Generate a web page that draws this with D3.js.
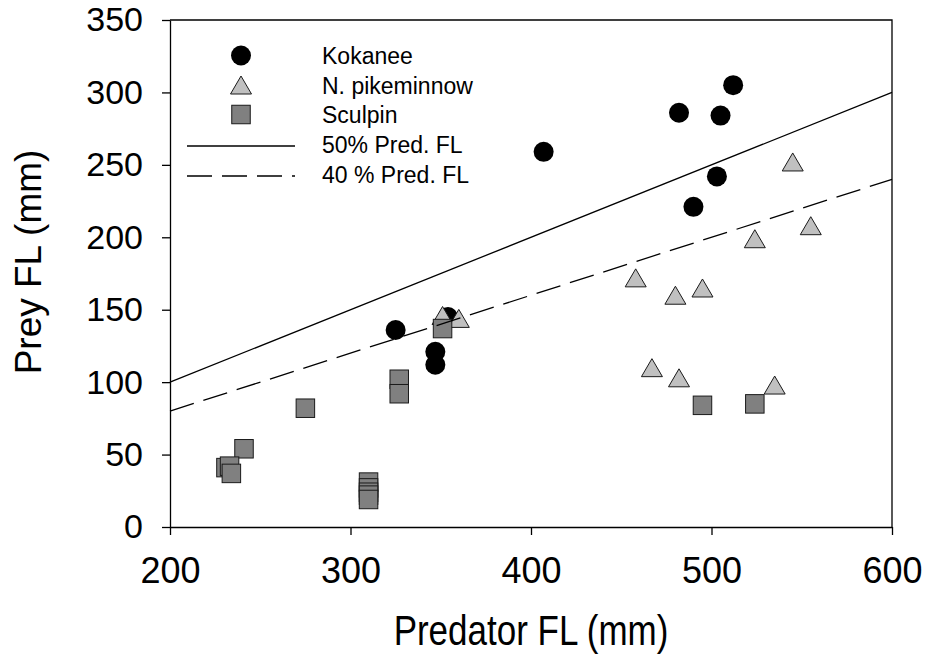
<!DOCTYPE html>
<html>
<head>
<meta charset="utf-8">
<script src="https://cdn.jsdelivr.net/npm/d3@7"></script>
<style>
  body { margin: 0; background: #fff; }
  text { font-family: "Liberation Sans", Arial, sans-serif; fill: #000; }
</style>
</head>
<body>
<div id="vis"></div>
<script>
// predator FL (x) and prey FL (y)
var kokaneeX = [512, 482, 505, 407, 503, 490, 354, 325, 347, 347];
var kokaneeY = [305, 286, 284, 259, 242, 221, 145, 136, 121, 112];

var pikeX = [545, 555, 524, 458, 480, 495, 467, 482, 535, 351, 360];
var pikeY = [252, 208, 199, 172, 160, 165, 110, 103, 98, 146, 144];

var sculpinX = [495, 524, 351, 327, 327, 275, 241, 231, 233, 234, 310, 310, 310, 310, 310];
var sculpinY = [84, 85, 137, 102, 92, 82, 54, 41, 42, 37, 31, 27, 24, 22, 19];

// reference lines: prey = fraction * predator
var lineNames = ["50% Pred. FL", "40 % Pred. FL"];
var lineFractions = [0.5, 0.4];
var lineRange = [200, 600];

var speciesNames = ["Kokanee", "N. pikeminnow", "Sculpin"];

var xTicks = [200, 300, 400, 500, 600];
var yTicks = [0, 50, 100, 150, 200, 250, 300, 350];

var width = 926, height = 654;
// (don't name these top/left etc - window.top is read only)
var plotL = 170, plotR = 892, plotT = 20, plotB = 527;

var svg = d3.select("#vis").append("svg").attr("width", width).attr("height", height);

var x = d3.scaleLinear().domain([200, 600]).range([plotL, plotR]);
var y = d3.scaleLinear().domain([0, 350]).range([plotB, plotT]);

// symbol drawing helpers
function drawCircle(g, cx, cy) {
  g.append("circle").attr("cx", cx).attr("cy", cy).attr("r", 10).attr("fill", "#000");
}
function drawTriangle(g, cx, cy) {
  var w = 21, h = 18;
  g.append("path")
    .attr("d", "M" + cx + "," + (cy - h / 2) + "L" + (cx + w / 2) + "," + (cy + h / 2) + "L" + (cx - w / 2) + "," + (cy + h / 2) + "Z")
    .attr("fill", "#c0c0c0").attr("stroke", "#1a1a1a").attr("stroke-width", 1);
}
function drawSquare(g, cx, cy) {
  var s = 18.5;
  g.append("rect").attr("x", cx - s / 2).attr("y", cy - s / 2).attr("width", s).attr("height", s)
    .attr("fill", "#808080").attr("stroke", "#1a1a1a").attr("stroke-width", 1);
}

// points: circles at the back, squares at the front
var pts = svg.append("g");
kokaneeX.forEach(function(v, i) { drawCircle(pts, x(v), y(kokaneeY[i])); });
pikeX.forEach(function(v, i) { drawTriangle(pts, x(v), y(pikeY[i])); });
sculpinX.forEach(function(v, i) { drawSquare(pts, x(v), y(sculpinY[i])); });

// reference lines
var dashes = [null, "25,10"];
lineFractions.forEach(function(f, i) {
  svg.append("line")
    .attr("x1", x(lineRange[0])).attr("y1", y(lineRange[0] * f))
    .attr("x2", x(lineRange[1])).attr("y2", y(lineRange[1] * f))
    .attr("stroke", "#000").attr("stroke-width", 1.3)
    .attr("stroke-dasharray", dashes[i]);
});

// axes
var xAxis = d3.axisBottom(x).tickValues(xTicks).tickSize(8).tickSizeOuter(0).tickPadding(22);
var yAxis = d3.axisLeft(y).tickValues(yTicks).tickSize(8).tickSizeOuter(0).tickPadding(19);

var gx = svg.append("g").attr("transform", "translate(0," + plotB + ")").call(xAxis);
var gy = svg.append("g").attr("transform", "translate(" + plotL + ",0)").call(yAxis);
[gx, gy].forEach(function(g) {
  g.select(".domain").attr("stroke", "#000").attr("stroke-width", 1.3);
  g.selectAll(".tick line").attr("stroke", "#000").attr("stroke-width", 1.3);
});
gx.selectAll("text").attr("font-size", 36).attr("font-family", "Liberation Sans, Arial");
gy.selectAll("text").attr("font-size", 34).attr("font-family", "Liberation Sans, Arial");

// frame top and right
svg.append("path")
  .attr("d", "M" + plotL + "," + plotT + "H" + plotR + "V" + plotB)
  .attr("fill", "none").attr("stroke", "#000").attr("stroke-width", 1.3);

// axis titles
svg.append("text")
  .attr("transform", "translate(" + ((plotL + plotR) / 2) + ",645) scale(1,1.2)")
  .attr("text-anchor", "middle")
  .attr("font-size", 35)
  .text("Predator FL (mm)");

svg.append("text")
  .attr("transform", "translate(41,262) rotate(-90)")
  .attr("text-anchor", "middle")
  .attr("font-size", 37)
  .text("Prey FL (mm)");

// legend
var legend = svg.append("g");
var legY = [64, 93.5, 123, 153, 183];
var drawers = [drawCircle, drawTriangle, drawSquare];
speciesNames.forEach(function(name, i) {
  drawers[i](legend, 241, legY[i] - 8.5);
  legend.append("text").attr("x", 322).attr("y", legY[i]).attr("font-size", 23).text(name);
});
lineNames.forEach(function(name, i) {
  var ly = legY[i + 3] - 7;
  legend.append("line").attr("x1", 187).attr("x2", 295).attr("y1", ly).attr("y2", ly)
    .attr("stroke", "#000").attr("stroke-width", 1.3).attr("stroke-dasharray", dashes[i]);
  legend.append("text").attr("x", 322).attr("y", legY[i + 3]).attr("font-size", 23).text(name);
});
</script>
</body>
</html>
